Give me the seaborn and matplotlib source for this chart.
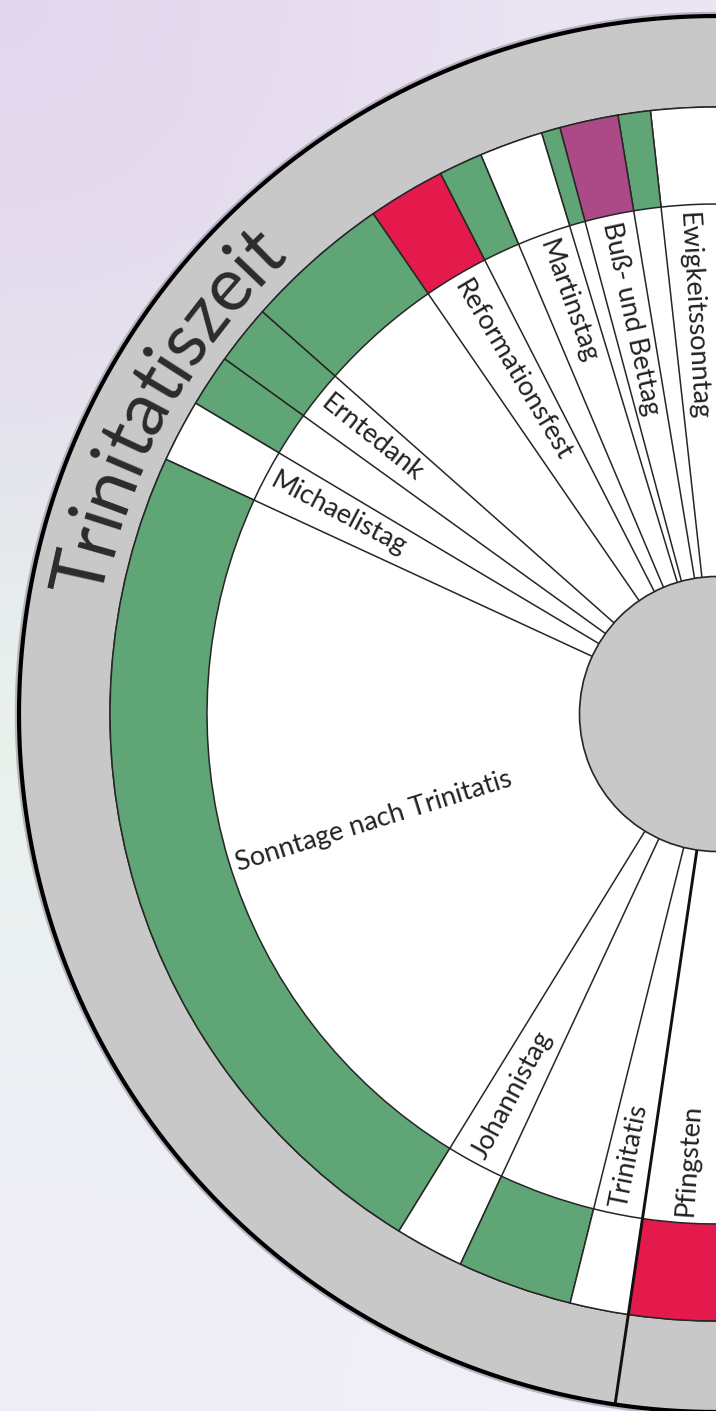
import numpy as np
import matplotlib
matplotlib.use("Agg")
import matplotlib.pyplot as plt
import seaborn as sns
from matplotlib.font_manager import FontProperties

# Kirchenjahr - linke Hälfte des Rades (Trinitatiszeit)
# Winkel in Grad, gegen den Uhrzeigersinn ab Osten
seg_edges = [88.0, 96.3, 99.4, 105.0, 106.8, 112.9, 117.1, 124.5, 138.5, 144.2,
             149.2, 155.2, 238.4, 245.0, 256.0, 261.6, 272.0]
seg_colors = ["weiss", "gruen", "violett", "gruen", "weiss", "gruen", "rot", "gruen",
              "gruen", "gruen", "weiss", "gruen", "weiss", "gruen", "weiss", "rot"]

labels = ["Ewigkeitssonntag", "Buß- und Bettag", "Martinstag", "Reformationsfest",
          "Erntedank", "Michaelistag", "Sonntage nach Trinitatis", "Johannistag",
          "Trinitatis", "Pfingsten"]
label_theta = [93.4, 102.2, 109.9, 120.8, 141.4, 152.2, 197.3, 241.7, 258.8, 266.3]

season = "Trinitatiszeit"
season_edge = 261.6   # Grenze Osterzeit / Trinitatiszeit

palette = {"weiss": "#ffffff", "gruen": "#60a575", "violett": "#ab4a86", "rot": "#e31a4b"}
grey = "#c8c8c8"
ink = "#262626"

sns.set_theme(style="white")
plt.rcParams["font.family"] = ["Lato", "DejaVu Sans"]

W, H = 716, 1411
fig = plt.figure(figsize=(W / 100, H / 100), dpi=100)

# background wash
bg = fig.add_axes([0, 0, 1, 1], zorder=0)
wash = np.array([
    [[226, 214, 236], [231, 222, 240], [236, 230, 244]],
    [[229, 226, 238], [233, 230, 242], [237, 234, 245]],
    [[232, 243, 234], [236, 241, 240], [240, 240, 245]],
    [[236, 240, 242], [238, 239, 246], [241, 240, 248]],
    [[239, 237, 247], [240, 238, 247], [242, 240, 248]],
]) / 255.0
bg.imshow(wash, extent=[0, 1, 0, 1], aspect="auto", interpolation="bicubic")
bg.set_axis_off()

# polar wheel, centre near the right edge
cx, cy, S = 717, H - 714, 712
ax = fig.add_axes([(cx - S) / W, (cy - S) / H, 2 * S / W, 2 * S / H],
                  projection="polar", zorder=1)
ax.set_ylim(0, S)
ax.set_axis_off()

r_in, r_ring, r_band, r_out = 137.5, 510, 607, 698

# outer grey band
ax.bar(np.pi, r_out - r_band, width=2 * np.pi, bottom=r_band,
       color=grey, edgecolor=ink, linewidth=1.1)
# white label ring
ax.bar(np.pi, r_ring - r_in, width=2 * np.pi, bottom=r_in,
       color="white", edgecolor="none")

# coloured ring
edges = np.deg2rad(seg_edges)
centers = (edges[:-1] + edges[1:]) / 2
widths = np.diff(edges)
ax.bar(centers, r_band - r_ring, width=widths, bottom=r_ring,
       color=[palette[c] for c in seg_colors], edgecolor=ink, linewidth=1.1)

# radial dividers through the label ring
for e in seg_edges[1:-1]:
    t = np.deg2rad(e)
    if e == season_edge:
        ax.plot([t, t], [r_in, r_out], color="#111111", lw=2.1, solid_capstyle="butt")
    else:
        ax.plot([t, t], [r_in, r_ring], color=ink, lw=1.1, solid_capstyle="butt")

# centre disc
ax.bar(np.pi, r_in, width=2 * np.pi, bottom=0, color=grey, edgecolor=ink, linewidth=1.2)

# rim
rim = np.linspace(0, 2 * np.pi, 721)
ax.plot(rim, np.full_like(rim, r_out + 3), color="#a29cab", lw=1.8, alpha=0.7)
ax.plot(rim, np.full_like(rim, r_out), color="black", lw=3.0)

# radial labels, reading from the ring inward
for lab, th in zip(labels, label_theta):
    ax.text(np.deg2rad(th), 503, lab, rotation=(th + 180) % 360, rotation_mode="anchor",
            ha="left", va="center", fontsize=19.5, color="#222222")

# season name along the grey band
fp = FontProperties(family="Lato", size=54)
renderer = fig.canvas.get_renderer()

def adv(s):
    if not s:
        return 0.0
    return renderer.get_text_width_height_descent(s, fp, ismath=False)[0]

r_base, r_lay = 627, 648
first_mid = adv(season[0]) / 2
t0 = np.deg2rad(167.4)
for i, ch in enumerate(season):
    mid = adv(season[:i]) + adv(ch) / 2
    th = t0 - (mid - first_mid) / r_lay
    ax.text(th, r_base, ch, rotation=np.rad2deg(th) - 90, rotation_mode="anchor",
            ha="center", va="baseline", fontproperties=fp, color="#2b2b2b")

fig.savefig("out.png", dpi=100)
